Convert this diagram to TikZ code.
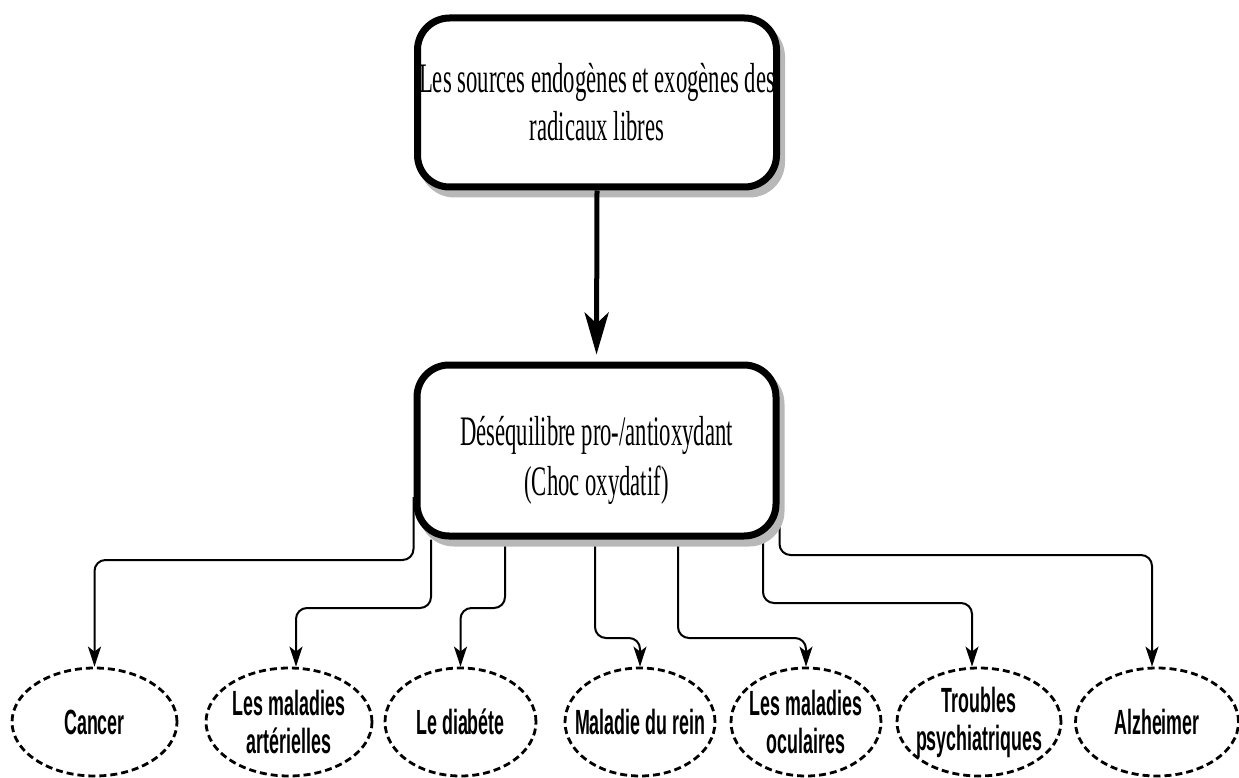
\documentclass[tikz,border=0pt]{standalone}
\usepackage{fontspec}
\setmainfont{Liberation Serif}[FakeStretch=0.54]
\newfontfamily\lsans{Liberation Sans}[FakeStretch=0.51]
\usetikzlibrary{shapes.geometric,shadows,arrows.meta,backgrounds}
\begin{document}
\begin{tikzpicture}[x=1pt,y=-1pt,
  mainbox/.style={draw, line width=7pt, rounded corners=32pt, fill=white,
    minimum width=359pt, align=center, inner sep=0pt,
    drop shadow={shadow xshift=5pt, shadow yshift=-7pt, fill=black!28,
      draw=black!28, line width=7pt, opacity=1}},
  dis/.style={ellipse, draw, dash pattern=on 7pt off 4pt, line width=2.8pt,
    minimum height=108pt, inner sep=-40pt, align=center,
    font=\lsans\bfseries\fontsize{35}{38}\selectfont},
  link/.style={line width=2pt, rounded corners=11pt,
    -{Stealth[length=20pt,width=13pt,inset=5pt]}},
  bigarrow/.style={line width=5pt, shorten >=7pt,
    -{Stealth[length=42pt,width=24pt,inset=11pt]}}
]
\useasboundingbox (0,0) rectangle (1239,778);

\node[mainbox, minimum height=169pt, font=\fontsize{42}{48}\selectfont]
  (top) at (597,102.5) {Les sources endogènes et exogènes des\\radicaux libres};
\node[mainbox, minimum height=171pt, font=\fontsize{42}{50}\selectfont]
  (mid) at (596.5,450.5) {\rule{0pt}{50pt}Déséquilibre pro-/antioxydant\\(Choc oxydatif)};

\node[dis, minimum width=165pt] (cancer) at (94.5,722) {Cancer};
\node[dis, minimum width=166pt] (art) at (289,722) {Les maladies\\artérielles};
\node[dis, minimum width=151pt] (diab) at (460.5,722) {Le diabéte};
\node[dis, minimum width=150pt] (rein) at (640,722) {Maladie du rein};
\node[dis, minimum width=150pt] (ocul) at (806,722) {Les maladies\\oculaires};
\node[dis, minimum width=164pt] (troub) at (979,722) {Troubles\\psychiatriques};
\node[dis, minimum width=163pt] (alz) at (1157,722) {Alzheimer};

\draw[bigarrow] (top.south) -- (mid.north);

\begin{scope}[on background layer]
\draw[link] (mid.west |- 0,497) -- (mid.west |- 0,560) -- (cancer.north |- 0,560) -- (cancer.north);
\draw[link] (431,0 |- mid.south) -- (431,608) -- (296,608) -- (296,0 |- art.north);
\draw[link] (505,0 |- mid.south) -- (505,608) -- (diab.north |- 0,608) -- (diab.north);
\draw[link] (595,0 |- mid.south) -- (595,638) -- (rein.north |- 0,638) -- (rein.north);
\draw[link] (678,0 |- mid.south) -- (678,638) -- (ocul.north |- 0,638) -- (ocul.north);
\draw[link] (763,0 |- mid.south) -- (763,603) -- (972,603) -- (972,0 |- troub.north);
\draw[link] (mid.east |- 0,500) -- (mid.east |- 0,555) -- (1152,555) -- (1152,0 |- alz.north);
\end{scope}
\end{tikzpicture}
\end{document}
